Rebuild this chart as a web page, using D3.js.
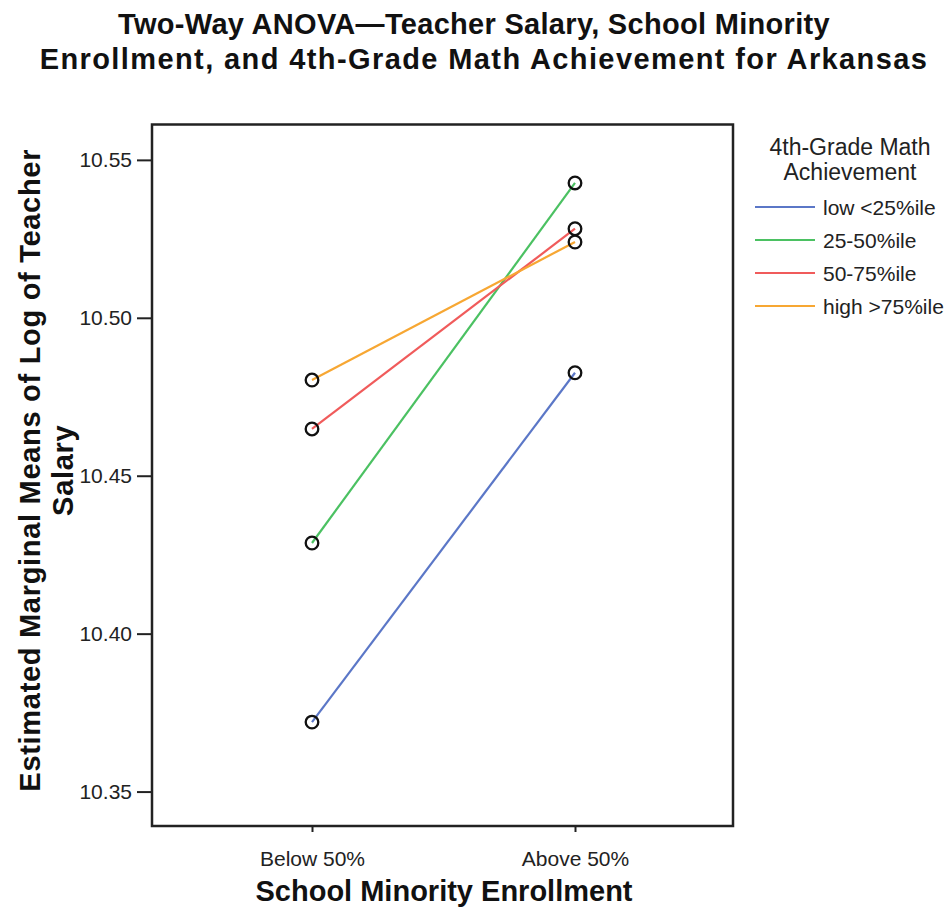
<!DOCTYPE html>
<html>
<head>
<meta charset="utf-8">
<script src="https://cdn.jsdelivr.net/npm/d3@7"></script>
<style>
  body { margin: 0; background: #fff; }
  svg { font-family: Arial, "Liberation Sans", sans-serif; }
</style>
</head>
<body>
<div id="chart"></div>
<script>
const categories = ["Below 50%", "Above 50%"];
const groups = ["low <25%ile", "25-50%ile", "50-75%ile", "high >75%ile"];
const colors = ["#5b77c7", "#4bc162", "#f05b5b", "#f7a733"];
// estimated marginal means, one array per group: [Below 50%, Above 50%]
const lowVals = [10.372, 10.4826];
const midLowVals = [10.4287, 10.5427];
const midHighVals = [10.4648, 10.5282];
const highVals = [10.4803, 10.5240];
const yTicks = [10.35, 10.40, 10.45, 10.50, 10.55];

const seriesVals = [lowVals, midLowVals, midHighVals, highVals];

const width = 948, height = 911;
const margin = {top: 124.5, right: 215, bottom: 85, left: 152};
const innerW = width - margin.left - margin.right;
const innerH = height - margin.top - margin.bottom;

const svg = d3.select("#chart").append("svg")
  .attr("width", width)
  .attr("height", height);

// title
const title = svg.append("text")
  .attr("text-anchor", "middle")
  .style("font-size", "29px")
  .style("font-weight", "bold")
  .attr("fill", "#111");
title.append("tspan").attr("x", 474).attr("y", 34)
  .style("letter-spacing", "0.3px")
  .text("Two-Way ANOVA\u2014Teacher Salary, School Minority");
title.append("tspan").attr("x", 484).attr("y", 69)
  .style("letter-spacing", "1.4px")
  .text("Enrollment, and 4th-Grade Math Achievement for Arkansas");

const plot = svg.append("g")
  .attr("transform", "translate(" + margin.left + "," + margin.top + ")");

const x = d3.scalePoint()
  .domain(categories)
  .range([160, 423]);

const y = d3.scaleLinear()
  .domain([10.3391, 10.5612])
  .range([innerH, 0]);

// axes
const yAxis = d3.axisLeft(y)
  .tickValues(yTicks)
  .tickFormat(d3.format(".2f"))
  .tickSize(15)
  .tickPadding(5);
const xAxis = d3.axisBottom(x)
  .tickSize(6)
  .tickPadding(19);

plot.append("g").attr("class", "axis-y").call(yAxis);
plot.append("g").attr("class", "axis-x")
  .attr("transform", "translate(0," + innerH + ")")
  .call(xAxis);

plot.selectAll(".domain").remove();
plot.selectAll(".tick line").attr("stroke", "#222").attr("stroke-width", 2);
plot.selectAll(".tick text")
  .attr("fill", "#222")
  .style("font-size", "21px")
  .style("font-family", "Arial, 'Liberation Sans', sans-serif");

// frame
plot.append("rect")
  .attr("x", 0).attr("y", 0)
  .attr("width", innerW).attr("height", innerH)
  .attr("fill", "none")
  .attr("stroke", "#222")
  .attr("stroke-width", 2.5);

// lines
const line = d3.line()
  .x((d, i) => x(categories[i]))
  .y(d => y(d));

plot.selectAll(".series")
  .data(seriesVals)
  .enter().append("path")
  .attr("class", "series")
  .attr("d", d => line(d))
  .attr("fill", "none")
  .attr("stroke", (d, i) => colors[i])
  .attr("stroke-width", 2.2);

// markers
const pts = [];
seriesVals.forEach((vals, gi) => vals.forEach((v, ci) => pts.push({c: categories[ci], v: v})));
plot.selectAll(".pt")
  .data(pts)
  .enter().append("circle")
  .attr("class", "pt")
  .attr("cx", d => x(d.c))
  .attr("cy", d => y(d.v))
  .attr("r", 6.3)
  .attr("fill", "none")
  .attr("stroke", "#111")
  .attr("stroke-width", 2.3);

// axis titles
svg.append("text")
  .attr("x", 444)
  .attr("y", 901)
  .attr("text-anchor", "middle")
  .style("font-size", "29px")
  .style("font-weight", "bold")
  .attr("fill", "#111")
  .text("School Minority Enrollment");

const yTitle = svg.append("text")
  .attr("transform", "translate(0," + (margin.top + innerH / 2 - 5) + ") rotate(-90)")
  .attr("text-anchor", "middle")
  .style("font-size", "29px")
  .style("font-weight", "bold")
  .style("letter-spacing", "0.7px")
  .attr("fill", "#111");
yTitle.append("tspan").attr("x", 0).attr("y", 40)
  .text("Estimated Marginal Means of Log of Teacher");
yTitle.append("tspan").attr("x", 0).attr("y", 73)
  .text("Salary");

// legend
const legend = svg.append("g").attr("transform", "translate(755,0)");
legend.append("text")
  .attr("x", 95).attr("y", 155)
  .attr("text-anchor", "middle")
  .style("font-size", "23px")
  .attr("fill", "#222")
  .text("4th-Grade Math");
legend.append("text")
  .attr("x", 95).attr("y", 180)
  .attr("text-anchor", "middle")
  .style("font-size", "23px")
  .attr("fill", "#222")
  .text("Achievement");

const items = legend.selectAll(".item")
  .data(groups)
  .enter().append("g")
  .attr("class", "item")
  .attr("transform", (d, i) => "translate(0," + (207 + i * 33) + ")");
items.append("line")
  .attr("x1", 0).attr("x2", 60)
  .attr("stroke", (d, i) => colors[i])
  .attr("stroke-width", 2);
items.append("text")
  .attr("x", 68).attr("y", 7.5)
  .style("font-size", "21px")
  .attr("fill", "#222")
  .text(d => d);
</script>
</body>
</html>
